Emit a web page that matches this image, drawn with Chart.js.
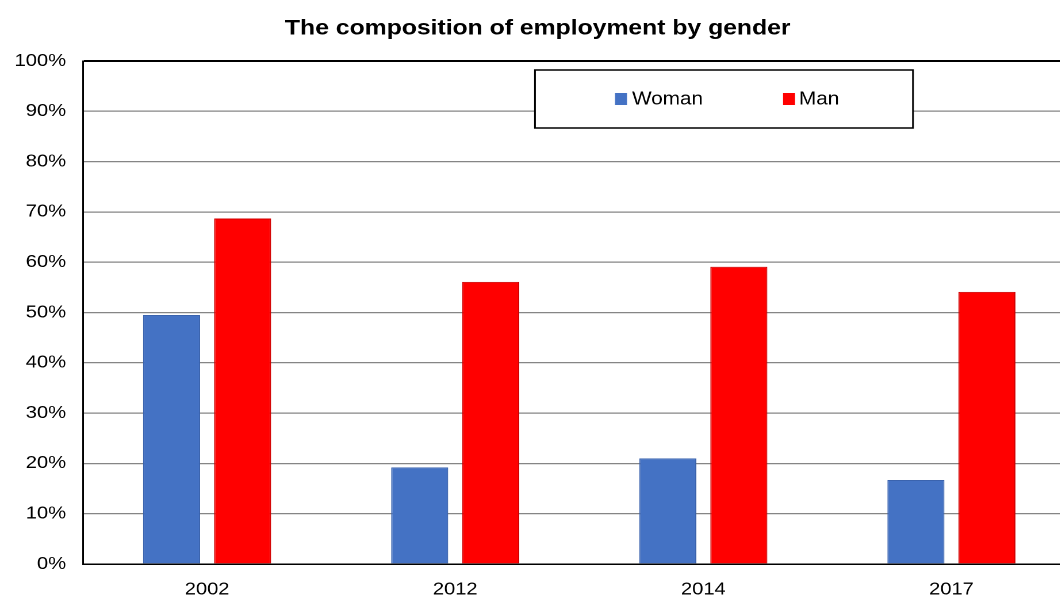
<!DOCTYPE html>
<html>
<head>
<meta charset="utf-8">
<script src="https://cdn.jsdelivr.net/npm/chart.js@4/dist/chart.umd.min.js"></script>
<style>
  html, body { margin: 0; padding: 0; background: #fff; overflow: hidden; width: 1060px; height: 598px; }
  /* the chart is laid out narrow and widened horizontally */
  #wrap { position: absolute; left: 0; top: 0; width: 948px; height: 598px; transform: scaleX(1.15); transform-origin: 0 0; }
</style>
</head>
<body>
<div id="wrap"><canvas id="c"></canvas></div>
<script>
// Share of employment (%) by gender
const years = ['2002', '2012', '2014', '2017'];
const woman = [49.5, 19.2, 21.0, 16.7];
const man = [68.7, 56.1, 59.1, 54.1];
const yTicks = [0, 10, 20, 30, 40, 50, 60, 70, 80, 90, 100];
const seriesNames = ['Woman', 'Man'];
const seriesColors = ['#4472C4', '#FF0000'];
const seriesBorders = ['#3A63AE', '#D00000'];
const titleText = 'The composition of employment by gender';

const FONT = "'Liberation Sans', Arial, sans-serif";

// Framed legend drawn inside the plot area
const legendBox = {
  id: 'legendBox',
  afterDatasetsDraw(chart) {
    const ctx = chart.ctx, a = chart.chartArea;
    const x0 = a.left + 393, y0 = a.top + 9, w = 328.7, h = 58;
    ctx.save();
    ctx.fillStyle = '#fff';
    ctx.fillRect(x0, y0, w, h);
    ctx.strokeStyle = '#000';
    ctx.lineWidth = 1.5;
    ctx.strokeRect(x0, y0, w, h);
    const offsets = [[462.6, 477.4], [608.7, 622.6]];
    ctx.font = '18px ' + FONT;
    ctx.textBaseline = 'middle';
    ctx.textAlign = 'left';
    chart.data.datasets.forEach((ds, i) => {
      const [sx, tx] = offsets[i];
      ctx.fillStyle = ds.backgroundColor;
      ctx.fillRect(a.left + sx, a.top + 32, 10.4, 12);
      ctx.fillStyle = '#000';
      ctx.fillText(ds.label, a.left + tx, a.top + 38.5);
    });
    ctx.restore();
  }
};

new Chart(document.getElementById('c'), {
  type: 'bar',
  data: {
    labels: years,
    datasets: [
      { label: seriesNames[0], data: woman, backgroundColor: seriesColors[0], borderColor: seriesBorders[0], borderWidth: 1 },
      { label: seriesNames[1], data: man, backgroundColor: seriesColors[1], borderColor: seriesBorders[1], borderWidth: 1 }
    ]
  },
  options: {
    responsive: true,
    maintainAspectRatio: false,
    devicePixelRatio: 2,
    animation: false,
    layout: { padding: { left: 0, right: 12.8, top: 0, bottom: 0 } },
    datasets: { bar: { categoryPercentage: 0.5726, barPercentage: 0.803 } },
    plugins: {
      legend: { display: false },
      tooltip: { enabled: false },
      title: {
        display: true,
        text: titleText,
        color: '#000',
        font: { family: FONT, size: 21.5, weight: 'bold', lineHeight: 1.2 },
        padding: { top: 15.5, bottom: 19.7 }
      }
    },
    scales: {
      x: {
        grid: { display: false, drawTicks: false },
        border: { display: true, color: '#000', width: 1.5 },
        ticks: { color: '#000', font: { family: FONT, size: 17.5 }, padding: 15 },
        afterFit(scale) { scale.height = 34; }
      },
      y: {
        min: 0,
        max: 100,
        afterBuildTicks(scale) { scale.ticks = yTicks.map(v => ({ value: v })); },
        grid: {
          drawTicks: false,
          color: c => (c.tick && c.tick.value === 100 ? '#000' : '#858585'),
          lineWidth: c => (c.tick && c.tick.value === 100 ? 2 : 1.2)
        },
        border: { display: true, color: '#000', width: 1.5 },
        ticks: { color: '#000', font: { family: FONT, size: 17.5 }, padding: 14.8, callback: v => v + '%' },
        afterFit(scale) { scale.width = 72.2; }
      }
    }
  },
  plugins: [legendBox]
});
</script>
</body>
</html>
